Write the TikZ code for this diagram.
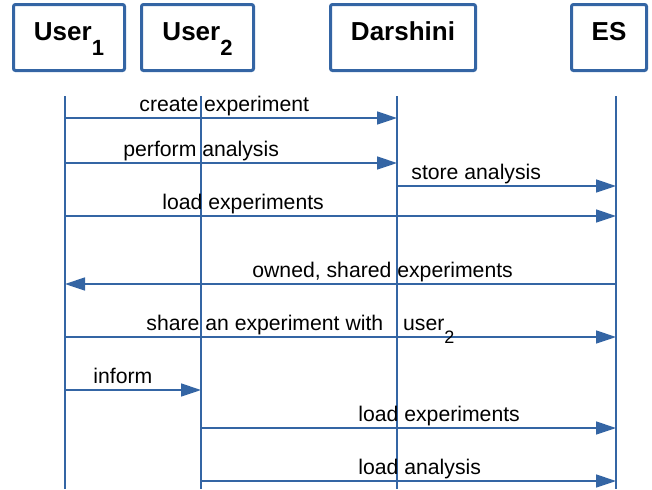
\documentclass[tikz,border=0pt]{standalone}
\usepackage{fontspec}
\setmainfont{Liberation Sans}
\usetikzlibrary{arrows.meta}
\definecolor{seqblue}{RGB}{52,101,164}
\tikzset{
  actor/.style={draw=seqblue, line width=1.5pt, rounded corners=1pt, inner sep=0pt,
    text height=17.75pt, text depth=15.25pt, font=\bfseries\fontsize{13}{15}\selectfont},
  life/.style={draw=seqblue, line width=0.75pt},
  msg/.style={draw=seqblue, line width=0.75pt, -{Triangle[length=10pt,width=6.5pt]}},
  lbl/.style={anchor=base west, inner sep=0pt, font=\fontsize{10.6}{13}\selectfont},
}
\newcommand{\tsub}[1]{\raisebox{-7.5pt}{\fontsize{11}{12}\selectfont #1}}
\newcommand{\lsub}[1]{\raisebox{-6.5pt}{\fontsize{9}{10}\selectfont #1}}
\begin{document}
\begin{tikzpicture}[x=0.5pt,y=-0.5pt]
\useasboundingbox (0,0) rectangle (652,489);
% participants
\node[actor, minimum width=55.5pt] (user1) at (69,37.5) {User\tsub{1}};
\node[actor, minimum width=56pt] (user2) at (197.5,37.5) {User\tsub{2}};
\node[actor, minimum width=72.5pt] (darshini) at (403,37.5) {Darshini};
\node[actor, minimum width=37.5pt] (es) at (609,37.5) {ES};
% lifelines
\coordinate (u1l) at (65,96);
\coordinate (u2l) at (201,96);
\coordinate (dl) at (397,96);
\coordinate (esl) at (616,96);
\coordinate (u1e) at (65,489);
\coordinate (u2e) at (201,489);
\coordinate (de) at (397,489);
\coordinate (ese) at (616,489);
\draw[life] (u1l) -- (u1e);
\draw[life] (u2l) -- (u2e);
\draw[life] (dl) -- (de);
\draw[life] (esl) -- (ese);
% message rows
\coordinate (m1) at (0,118);
\coordinate (m2) at (0,163);
\coordinate (m3) at (0,186);
\coordinate (m4) at (0,216);
\coordinate (m5) at (0,284);
\coordinate (m6) at (0,337);
\coordinate (m7) at (0,390);
\coordinate (m8) at (0,428);
\coordinate (m9) at (0,481);
% messages
\draw[msg] (u1l |- m1) -- (dl |- m1);
\draw[msg] (u1l |- m2) -- (dl |- m2);
\draw[msg] (dl |- m3) -- (esl |- m3);
\draw[msg] (u1l |- m4) -- (esl |- m4);
\draw[msg] (esl |- m5) -- (u1l |- m5);
\draw[msg] (u1l |- m6) -- (esl |- m6);
\draw[msg] (u1l |- m7) -- (u2l |- m7);
\draw[msg] (u2l |- m8) -- (esl |- m8);
\draw[msg] (u2l |- m9) -- (esl |- m9);
% labels
\node[lbl] (t1) at (139,111) {create experiment};
\node[lbl] (t2) at (123,156) {perform analysis};
\node[lbl] (t3) at (411,179) {store analysis};
\node[lbl] (t4) at (162,209) {load experiments};
\node[lbl] (t5) at (252,277) {owned, shared experiments};
\node[lbl] (t6) at (146,330) {share an experiment with\hspace{10pt}user\lsub{2}};
\node[lbl] (t7) at (93,383) {inform};
\node[lbl] (t8) at (358,421) {load experiments};
\node[lbl] (t9) at (358,474) {load analysis};
\end{tikzpicture}
\end{document}
